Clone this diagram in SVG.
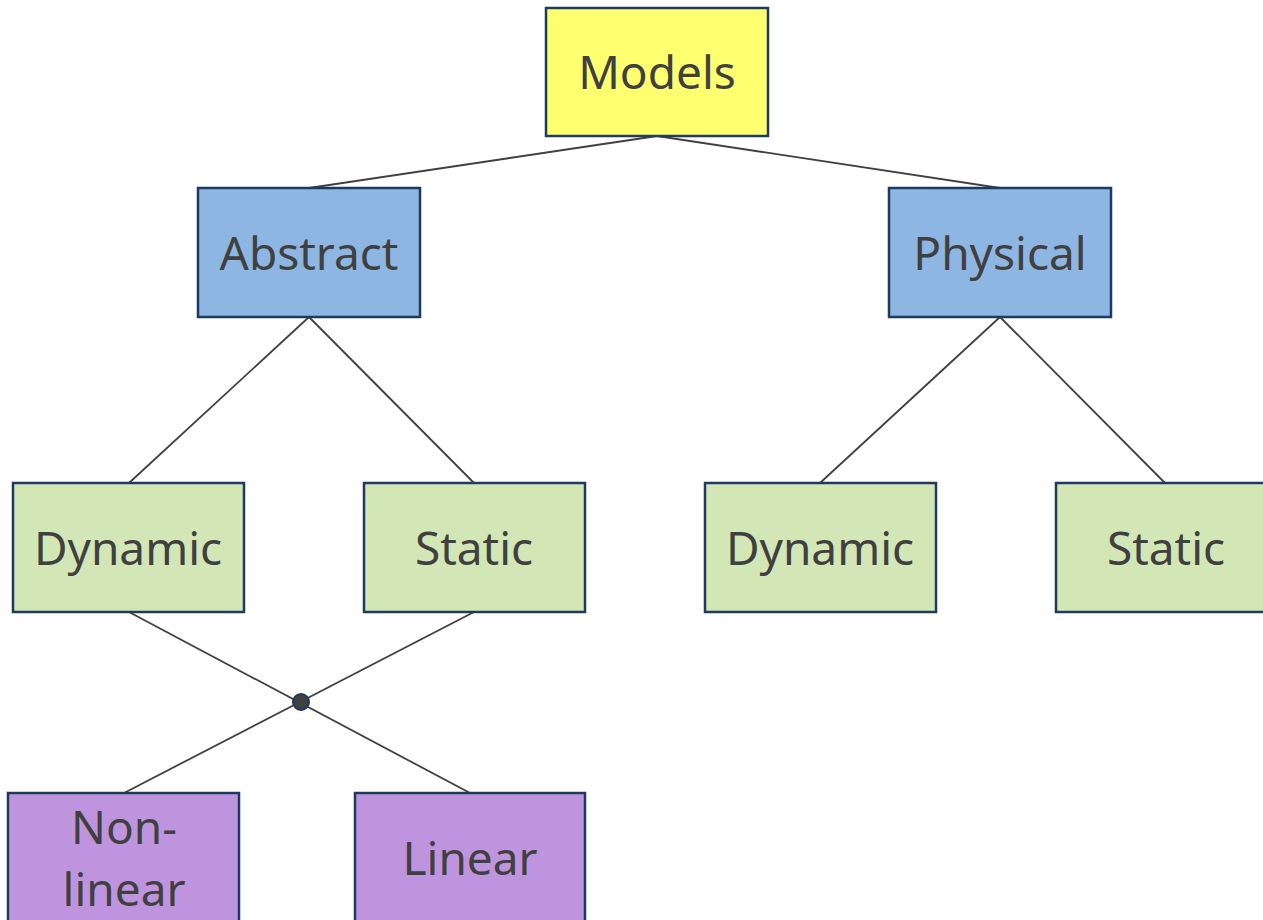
<svg xmlns="http://www.w3.org/2000/svg" width="1263" height="920" viewBox="0 0 1263 920">
  <style>
    .box { stroke: #1F3A5F; stroke-width: 2.5; }
    .lbl { font-family: "Noto Sans", "Open Sans", sans-serif; font-size: 46px; fill: #404040; text-anchor: middle; }
    .edge { stroke: #404040; stroke-width: 1.8; fill: none; }
    .root { fill: #FFFF70; }
    .kind { fill: #8DB6E2; }
    .time { fill: #D2E7B5; }
    .lin { fill: #BF94DE; }
  </style>
  <rect width="1263" height="920" fill="#FFFFFF"/>

  <g id="connectors">
    <line class="edge" x1="657" y1="136" x2="309" y2="188"/>
    <line class="edge" x1="657" y1="136" x2="1000" y2="188"/>
    <line class="edge" x1="309" y1="317" x2="129" y2="483"/>
    <line class="edge" x1="309" y1="317" x2="474" y2="483"/>
    <line class="edge" x1="1000" y1="317" x2="820" y2="483"/>
    <line class="edge" x1="1000" y1="317" x2="1165" y2="483"/>
    <line class="edge" x1="129" y1="612" x2="470" y2="793"/>
    <line class="edge" x1="474" y1="612" x2="124" y2="793"/>
    <circle cx="301" cy="702" r="8" fill="#404040" stroke="#1F3A5F" stroke-width="2"/>
  </g>

  <g id="models">
    <rect class="box root" x="546" y="8" width="222" height="128"/>
    <text class="lbl" x="657" y="89">Models</text>
  </g>
  <g id="abstract">
    <rect class="box kind" x="198" y="188" width="222" height="129"/>
    <text class="lbl" x="309" y="270">Abstract</text>
  </g>
  <g id="physical">
    <rect class="box kind" x="889" y="188" width="222" height="129"/>
    <text class="lbl" x="1000" y="270">Physical</text>
  </g>
  <g id="abstract-dynamic">
    <rect class="box time" x="13" y="483" width="231" height="129"/>
    <text class="lbl" x="128" y="565">Dynamic</text>
  </g>
  <g id="abstract-static">
    <rect class="box time" x="364" y="483" width="221" height="129"/>
    <text class="lbl" x="474" y="565">Static</text>
  </g>
  <g id="physical-dynamic">
    <rect class="box time" x="705" y="483" width="231" height="129"/>
    <text class="lbl" x="820" y="565">Dynamic</text>
  </g>
  <g id="physical-static">
    <rect class="box time" x="1056" y="483" width="230" height="129"/>
    <text class="lbl" x="1166" y="565">Static</text>
  </g>
  <g id="non-linear">
    <rect class="box lin" x="8" y="793" width="231" height="140"/>
    <text class="lbl" x="124" y="844">Non-</text>
    <text class="lbl" x="124" y="906">linear</text>
  </g>
  <g id="linear">
    <rect class="box lin" x="355" y="793" width="230" height="140"/>
    <text class="lbl" x="470" y="875">Linear</text>
  </g>
</svg>
